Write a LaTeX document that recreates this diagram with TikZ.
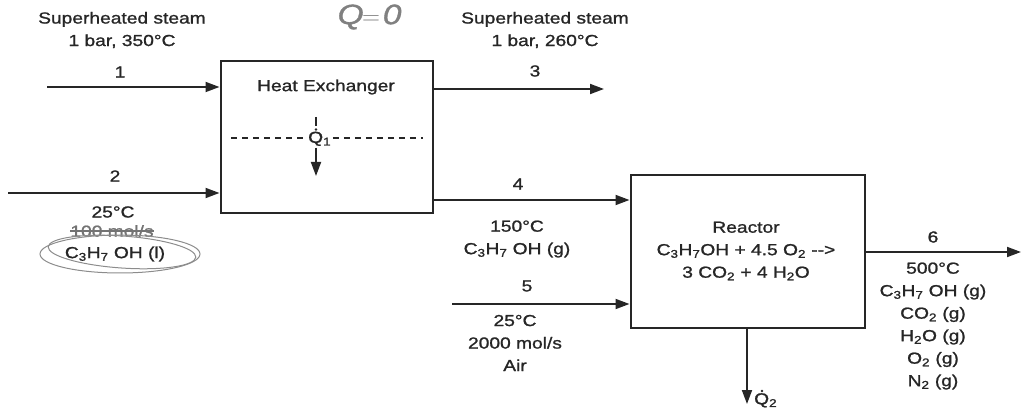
\documentclass[tikz,border=0pt]{standalone}
\usepackage{fontspec}
\setmainfont{Liberation Sans}[FakeStretch=1.2,FakeBold=1.2]
\usetikzlibrary{arrows.meta}
\begin{document}
\begin{tikzpicture}[x=1pt,y=-1pt,
  txt/.style={font=\fontsize{16}{22.5}\selectfont, align=center, inner sep=0pt, text=black!85},
  flow/.style={line width=1.8pt, draw=black!85, -{Triangle[length=14pt,width=10pt]}},
  box/.style={draw=black!85, line width=2pt, inner sep=0pt},
  hand/.style={draw=black!45, line width=1pt}]
\useasboundingbox (0,0) rectangle (1021,414);
% boxes
\node[box, minimum width=212pt, minimum height=152pt] (hx) at (326.5,137) {};
\node[txt] (hxl) at (326,87) {Heat Exchanger};
\node[box, minimum width=234pt, minimum height=153pt] (rx) at (747.5,251.5) {};
\node[txt] (rxl) at (746,251) {Reactor\\C\textsubscript{3}H\textsubscript{7}OH + 4.5 O\textsubscript{2} -{}->\\3 CO\textsubscript{2} + 4 H\textsubscript{2}O};
% Q1 inside heat exchanger
\node[txt, fill=white, inner sep=1.5pt, anchor=north west] (q1) at (306.5,130) {Q\textsubscript{1}};
\coordinate (q1dot) at ([xshift=9.5pt,yshift=0.5pt]q1.north west);
\fill[black!85] (q1dot) circle[radius=1.4pt];
\draw[line width=1.5pt, dash pattern=on 6pt off 5pt, black!85] (231,138) -- (231,138 -| q1.west);
\draw[line width=1.5pt, dash pattern=on 6pt off 5pt, black!85] (423,138 -| q1.east) -- (423,138);
\coordinate (q1top) at (q1dot |- 0,117);
\coordinate (q1tip) at (q1dot |- 0,176);
\draw[line width=1.5pt, black!85] (q1top) -- ([yshift=3.5pt]q1dot);
\draw[flow] (q1dot |- q1.south) -- (q1tip);
% stream 1
\coordinate (s1) at (47,87);
\draw[flow] (s1) -- (s1 -| hx.west);
\node[txt] (n1) at (120,72) {1};
\node[txt] (t1) at (122,30) {Superheated steam\\1 bar, 350°C};
% stream 2
\coordinate (s2) at (8,193);
\draw[flow] (s2) -- (s2 -| hx.west);
\node[txt] (n2) at (115,176) {2};
\node[txt] (t2) at (113,212) {25°C};
\node[txt, text=black!55] (m100) at (112,231) {100 mol/s};
\draw[black!55, line width=1.2pt] (m100.west) -- (m100.east);
\node[txt] (t2b) at (115,254) {C\textsubscript{3}H\textsubscript{7} OH (l)};
\draw[hand] (120,254) ellipse [x radius=80, y radius=19];
\draw[hand, rotate around={-4:(122,252)}] (122,252) ellipse [x radius=74, y radius=16];
% stream 3
\coordinate (s3) at (604,89);
\draw[flow] (hx.east |- s3) -- (s3);
\node[txt] (n3) at (535,71) {3};
\node[txt] (t3) at (545,30) {Superheated steam\\1 bar, 260°C};
% handwritten Q=0
\node[font=\fontsize{28}{28}\selectfont, text=black!50, inner sep=0pt] (q0) at (368,17) {$\mathit{Q\!=\!0}$};
% stream 4
\coordinate (s4) at (433,200);
\draw[flow] (s4 -| hx.east) -- (s4 -| rx.west);
\node[txt] (n4) at (518,184) {4};
\node[txt] (t4) at (517,239) {150°C\\C\textsubscript{3}H\textsubscript{7} OH (g)};
% stream 5
\coordinate (s5) at (452,304);
\draw[flow] (s5) -- (s5 -| rx.west);
\node[txt] (n5) at (527,286) {5};
\node[txt] (t5) at (515,343) {25°C\\2000 mol/s\\Air};
% stream 6
\coordinate (s6) at (1021,252);
\draw[flow] (rx.east |- s6) -- (s6);
\node[txt] (n6) at (933,237) {6};
\node[txt] (t6) at (933,326) {500°C\\C\textsubscript{3}H\textsubscript{7} OH (g)\\CO\textsubscript{2} (g)\\H\textsubscript{2}O (g)\\O\textsubscript{2} (g)\\N\textsubscript{2} (g)};
% Q2
\coordinate (q2) at (747,404);
\draw[flow] (rx.south -| q2) -- (q2);
\node[txt, anchor=north west] (q2l) at (754,393) {Q\textsubscript{2}};
\fill[black!85] ([xshift=8pt,yshift=2pt]q2l.north west) circle[radius=1.4pt];
\end{tikzpicture}
\end{document}
